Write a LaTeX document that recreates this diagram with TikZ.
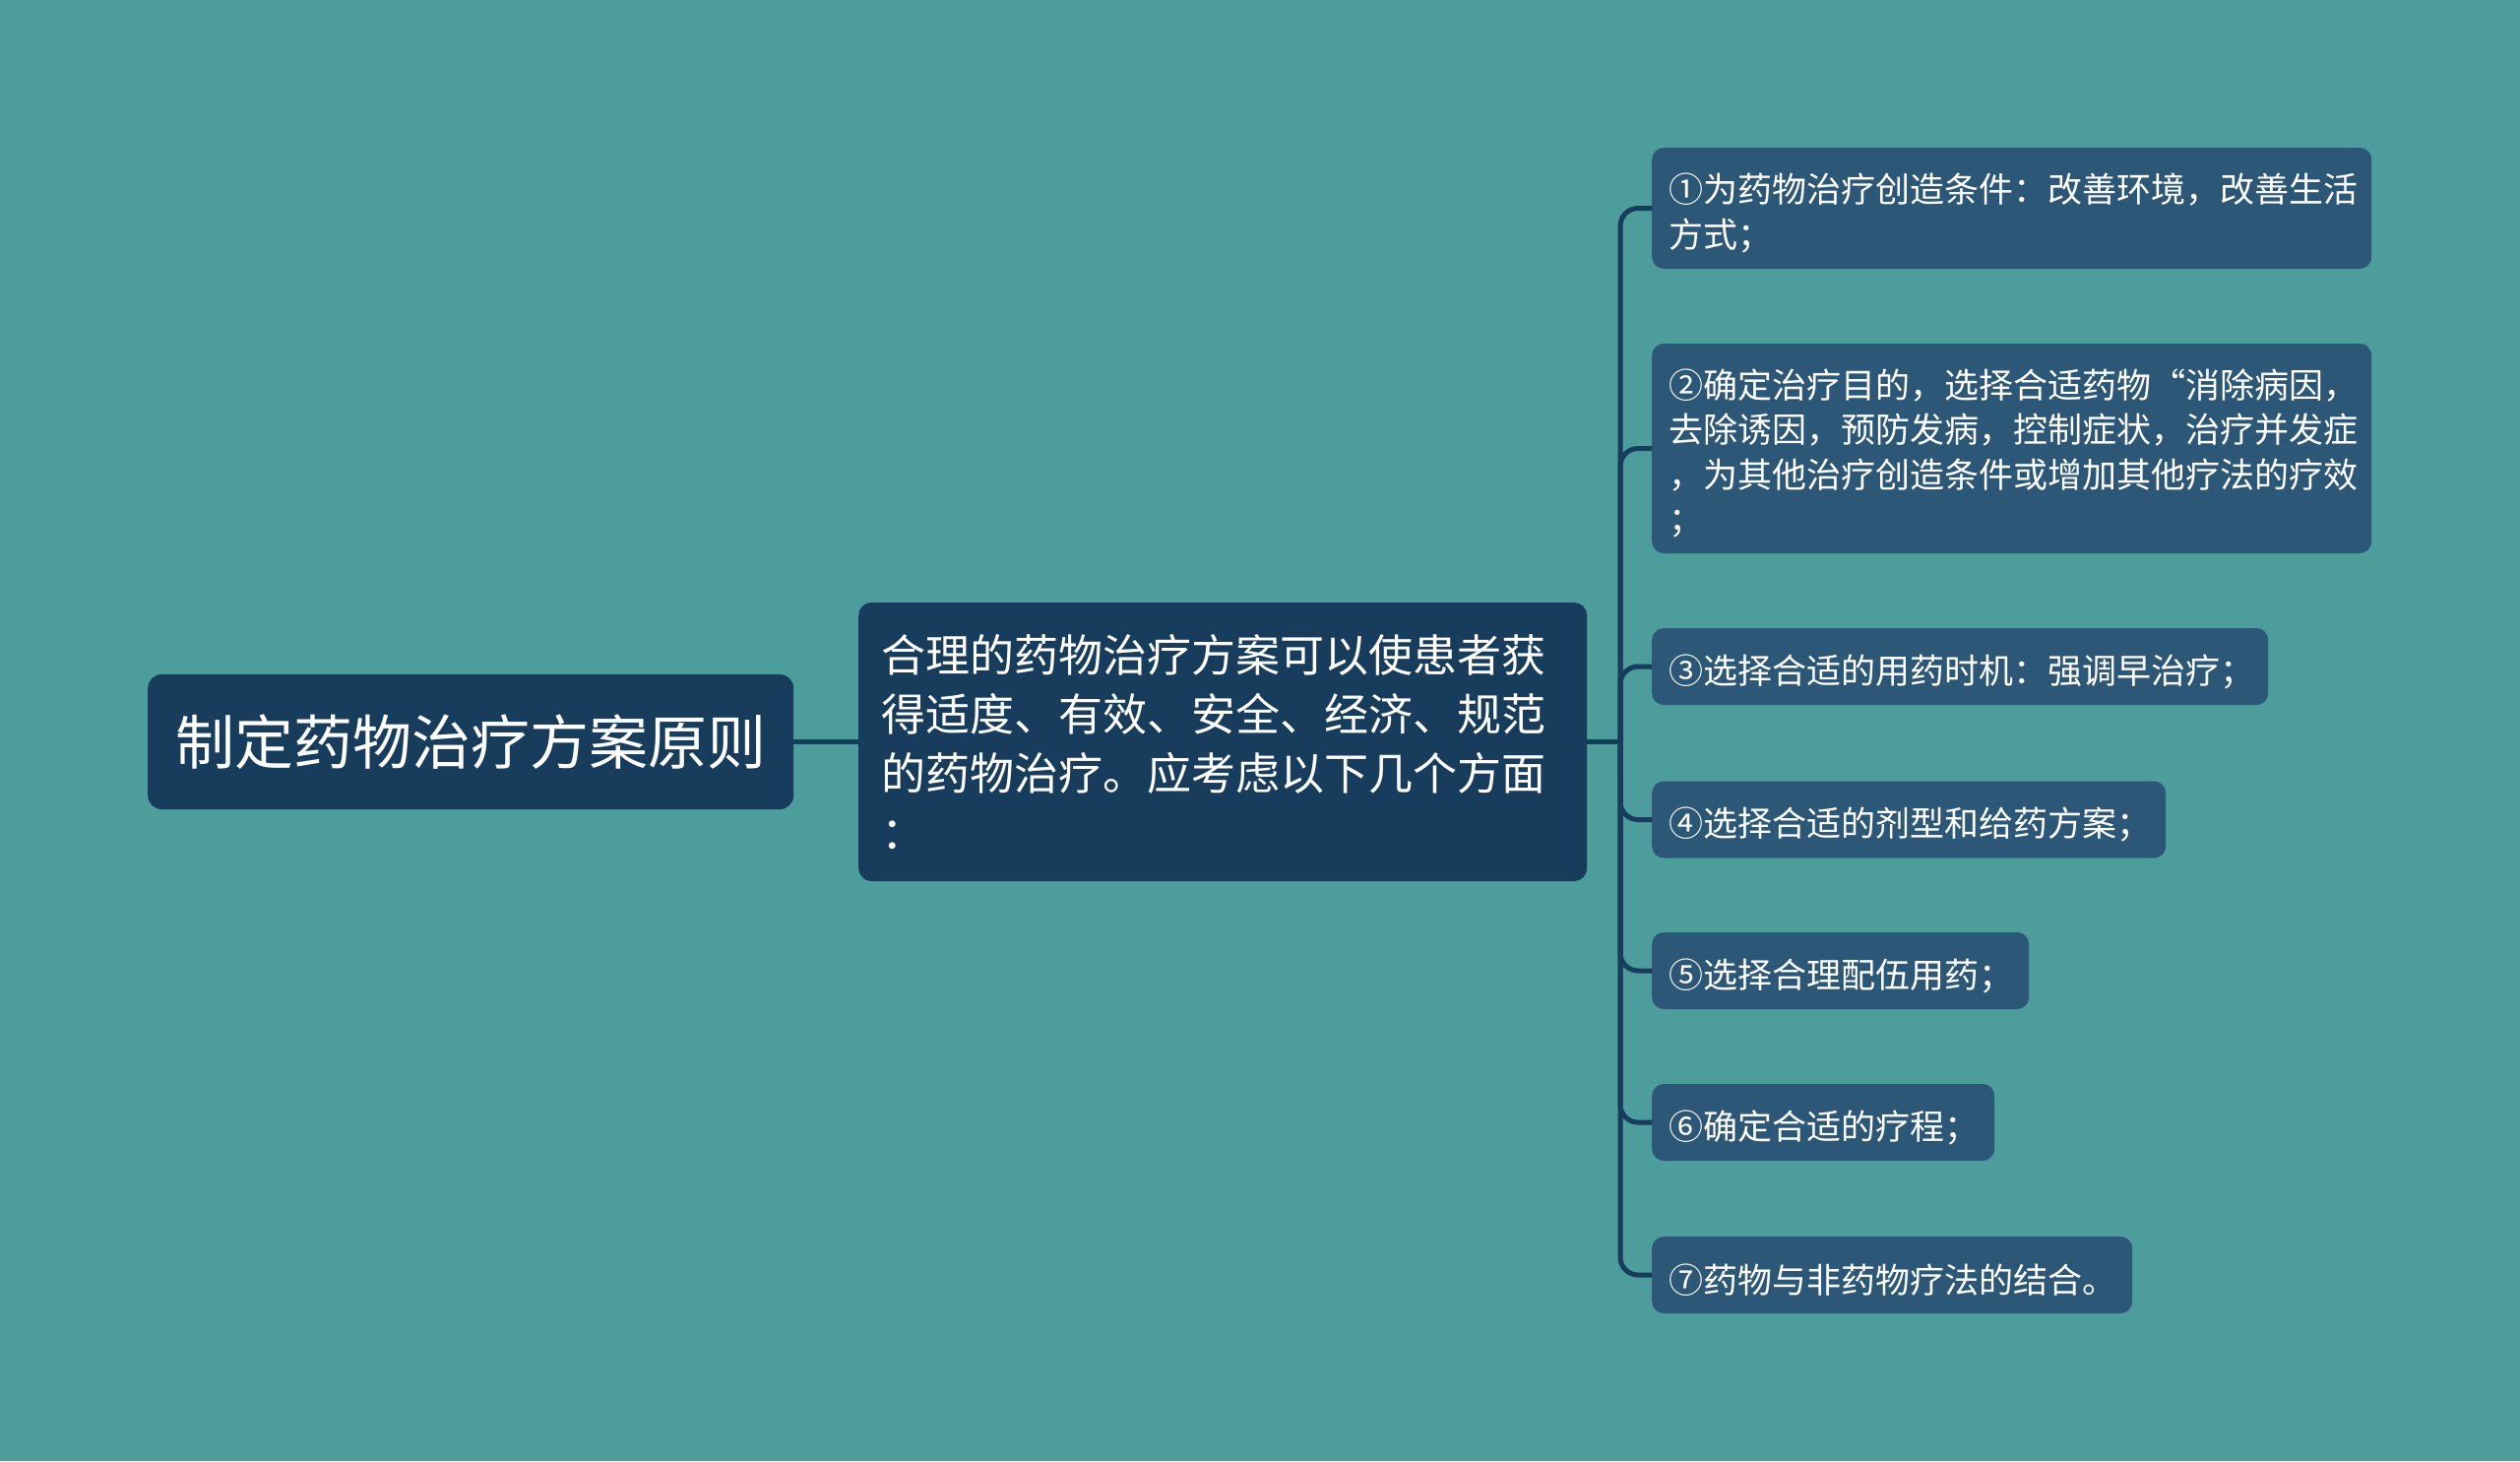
\documentclass[tikz,border=0pt]{standalone}
\usepackage{fontspec}
\setmainfont{Noto Sans CJK SC}
\definecolor{bg}{HTML}{4E9D9D}
\definecolor{darkbox}{HTML}{173C5C}
\definecolor{leafcol}{HTML}{2D5777}
\definecolor{linecol}{HTML}{173C5C}
\newcommand\lfstrut{\rule{0pt}{40pt}}
\begin{document}
\begin{tikzpicture}[x=1pt,y=-1pt,
  rootbox/.style={fill=darkbox, text=white, rounded corners=14pt, inner sep=0pt,
    minimum width=656pt, minimum height=137pt, anchor=west,
    font=\fontsize{60}{72}\selectfont},
  midbox/.style={fill=darkbox, text=white, rounded corners=13pt, inner xsep=23pt, inner ysep=0pt,
    text width=694pt, minimum height=283pt, align=left, anchor=west,
    font=\fontsize{45}{60}\selectfont},
  leafbox/.style={fill=leafcol, text=white, rounded corners=12pt, inner xsep=17pt, inner ysep=0pt,
    align=left, anchor=west, font=\fontsize{35}{45.5}\selectfont},
  conn/.style={draw=linecol, line width=5pt},
  branch/.style={draw=linecol, line width=5pt, rounded corners=18pt}]
\useasboundingbox (0,0) rectangle (2560,1484);
\fill[bg] (0,0) rectangle (2560,1484);

\node[rootbox] (root) at (150,753.5) {制定药物治疗方案原则};
\node[midbox] (mid) at (872,753.5) {合理的药物治疗方案可以使患者获\\得适度、有效、安全、经济、规范\\的药物治疗。应考虑以下几个方面\\：};

\node[leafbox, text width=697pt, minimum height=123pt] (c1) at (1678,211.5) {\lfstrut①为药物治疗创造条件：改善环境，改善生活\\方式；};
\node[leafbox, text width=697pt, minimum height=213pt] (c2) at (1678,455.5) {\lfstrut②确定治疗目的，选择合适药物“消除病因，\\去除诱因，预防发病，控制症状，治疗并发症\\，为其他治疗创造条件或增加其他疗法的疗效\\；};
\node[leafbox, text width=592pt, minimum height=78pt] (c3) at (1678,677) {\lfstrut③选择合适的用药时机：强调早治疗；};
\node[leafbox, text width=488pt, minimum height=78pt] (c4) at (1678,832.5) {\lfstrut④选择合适的剂型和给药方案；};
\node[leafbox, text width=349pt, minimum height=78pt] (c5) at (1678,986) {\lfstrut⑤选择合理配伍用药；};
\node[leafbox, text width=314pt, minimum height=78pt] (c6) at (1678,1140) {\lfstrut⑥确定合适的疗程；};
\node[leafbox, text width=454pt, minimum height=78pt] (c7) at (1678,1295) {\lfstrut⑦药物与非药物疗法的结合。};

\coordinate (bx) at (1646,753.5);
\draw[conn] (root.east) -- (mid.west);
\draw[conn] (mid.east) -- (bx);
\foreach \c in {c1,c2,c3,c4,c5,c6,c7}{
  \draw[branch] (bx) |- (\c.west);
}
\end{tikzpicture}
\end{document}
